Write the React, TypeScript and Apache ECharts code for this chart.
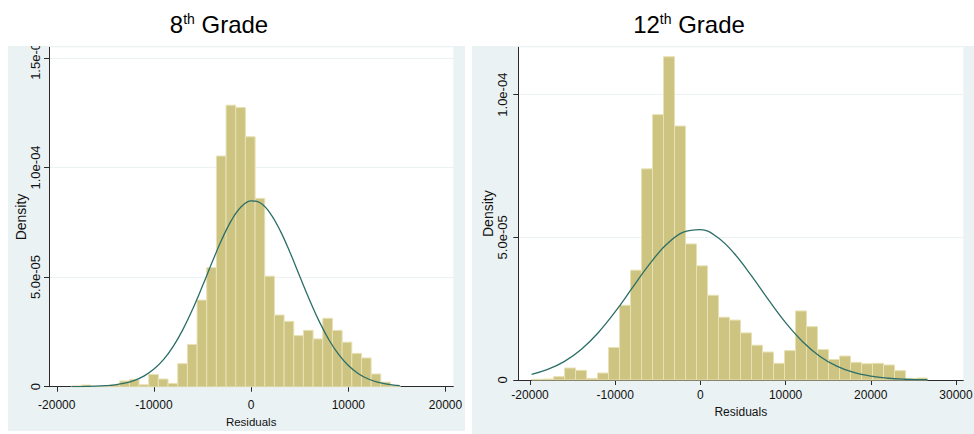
import React, { useEffect, useRef } from "react";
import * as echarts from "echarts";

// density values are stored in units of 1e-6
const SCALE = 1e-6;

// ---- 8th grade histogram ----
const grade8BinStart = -18500;
const grade8BinWidth = 995;
const grade8Density = [
  0.36, 0.77, 0.15, 0.15, 1.06, 2.6, 3.35, 0.9, 5.6, 3.5, 1.5, 10.5, 19.3, 39.5,
  54.3, 105.2, 128.4, 127.3, 114.0, 85.9, 50.4, 32.7, 29.8, 23.3, 25.7, 21.8,
  31.2, 25.7, 20.3, 15.2, 13.1, 5.8, 2.1, 0.6,
];
const grade8CurveX = [
  -18500, -18000, -17000, -16000, -15000, -14000, -13000, -12000, -11000, -10000,
  -9000, -8000, -7000, -6000, -5000, -4000, -3000, -2000, -1000, 0, 1000, 2000,
  3000, 4000, 5000, 6000, 7000, 8000, 9000, 10000, 11000, 12000, 13000, 14000,
  15000, 15300,
];
const grade8CurveY = [
  0.03, 0.05, 0.11, 0.22, 0.46, 0.88, 1.64, 2.92, 4.96, 8.05, 12.49, 18.53, 26.26,
  35.56, 46.03, 56.95, 67.32, 76.08, 82.16, 84.8, 83.66, 78.88, 71.08, 61.22,
  50.38, 39.64, 29.8, 21.42, 14.71, 9.65, 6.06, 3.63, 2.08, 1.14, 0.6, 0.49,
];

// ---- 12th grade histogram ----
const grade12BinStart = -19820;
const grade12BinWidth = 1291;
const grade12Density = [
  0.23, 0.35, 1.17, 4.2, 3.4, 0.58, 2.45, 11.4, 26.2, 38.5, 74.0, 93.0, 113.3,
  89.0, 47.7, 40.0, 29.7, 22.0, 21.0, 16.5, 12.2, 9.8, 5.85, 10.3, 24.2, 18.7,
  10.7, 7.2, 8.4, 6.2, 5.7, 5.85, 5.26, 3.27, 0.47, 0.7,
];
const grade12CurveX = [
  -19820, -18000, -16000, -14000, -12000, -10000, -8000, -6000, -4000, -2000, 0,
  2000, 4000, 6000, 8000, 10000, 12000, 14000, 16000, 18000, 20000, 22000, 24000,
  26000, 26640,
];
const grade12CurveY = [
  2.0, 3.6, 6.42, 10.68, 16.57, 23.94, 32.26, 40.53, 47.46, 51.81, 52.72, 50.02,
  44.24, 36.48, 28.04, 20.09, 13.42, 8.35, 4.85, 2.63, 1.33, 0.62, 0.27, 0.11,
  0.08,
];

// ---- ticks ----
const xTicks8 = [-20000, -10000, 0, 10000, 20000];
const xTicks12 = [-20000, -10000, 0, 10000, 20000, 30000];
const yTicks8 = [0, 5e-5, 1e-4, 1.5e-4];
const yTicks12 = [0, 5e-5, 1e-4];

const FONT = "'Liberation Sans', Arial, Helvetica, sans-serif";
const BAR_FILL = "#CDC481";
const BAR_EDGE = "#E8E1B4";
const CURVE = "#2C6E68";
const AXIS = "#2a2a2a";
const PANEL = "#EAF2F3";

function fmtY(v: number): string {
  if (Math.abs(v) < 1e-12) return "0";
  const [m, e] = v.toExponential(1).split("e");
  const n = Math.abs(parseInt(e, 10));
  return `${m}e${e[0] === "-" ? "-" : ""}${String(n).padStart(2, "0")}`;
}

function binData(start: number, width: number, dens: number[]) {
  return dens.map((d, i) => [start + i * width, start + (i + 1) * width, d * SCALE]);
}

function curveData(xs: number[], ys: number[]) {
  return xs.map((x, i) => [x, ys[i] * SCALE]);
}

const renderBar = (params: any, api: any) => {
  const x0 = api.value(0);
  const x1 = api.value(1);
  const y = api.value(2);
  const p0 = api.coord([x0, y]);
  const p1 = api.coord([x1, 0]);
  return {
    type: "rect",
    shape: { x: p0[0], y: p0[1], width: p1[0] - p0[0], height: p1[1] - p0[1] },
    style: { fill: BAR_FILL, stroke: BAR_EDGE, lineWidth: 1 },
  };
};

function xAxisCfg(grid: number, min: number, max: number, ticks: number[], margin: number, nameGap: number, nameSize: number) {
  return {
    gridIndex: grid,
    type: "value",
    min,
    max,
    axisLine: { show: true, onZero: false, lineStyle: { color: AXIS, width: 1 } },
    axisTick: { show: true, customValues: ticks, length: 5, lineStyle: { color: AXIS } },
    axisLabel: {
      customValues: ticks,
      margin,
      fontSize: 12,
      color: "#111",
      fontFamily: FONT,
      formatter: (v: number) => String(v),
    },
    splitLine: { show: false },
    name: "Residuals",
    nameLocation: "middle",
    nameGap,
    nameTextStyle: { fontSize: nameSize, color: "#111", fontFamily: FONT },
  };
}

function yAxisCfg(grid: number, max: number, ticks: number[], margin: number, nameGap: number) {
  return {
    gridIndex: grid,
    type: "value",
    min: 0,
    max,
    interval: 5e-5,
    axisLine: { show: true, onZero: false, lineStyle: { color: AXIS, width: 1 } },
    axisTick: { show: true, customValues: ticks, length: 5, lineStyle: { color: AXIS } },
    axisLabel: {
      customValues: ticks,
      rotate: 90,
      margin,
      fontSize: 13,
      color: "#111",
      fontFamily: FONT,
      formatter: (v: number) => fmtY(v),
    },
    splitLine: { show: true, lineStyle: { color: PANEL, width: 1 } },
    name: "Density",
    nameLocation: "middle",
    nameRotate: 90,
    nameGap,
    nameTextStyle: { fontSize: 14, color: "#111", fontFamily: FONT },
  };
}

function titleText(x: number, num: string) {
  return {
    type: "text",
    x,
    y: 24,
    z: 101,
    style: {
      text: `{n|${num}}{s|th}{n| Grade}`,
      align: "center",
      verticalAlign: "middle",
      rich: {
        n: { fontSize: 24, fontFamily: FONT, fill: "#000", color: "#000" },
        s: { fontSize: 14, fontFamily: FONT, fill: "#000", color: "#000", verticalAlign: "top" },
      },
    },
  };
}

export default function App() {
  const ref = useRef<HTMLDivElement>(null);
  useEffect(() => {
    document.body.style.margin = "0";
    if (!ref.current) return;
    const chart = echarts.init(ref.current, undefined, { renderer: "svg" });
    chart.setOption({
      animation: false,
      backgroundColor: "#ffffff",
      graphic: [
        { type: "rect", z: -10, shape: { x: 8, y: 46, width: 457, height: 385 }, style: { fill: PANEL } },
        { type: "rect", z: -10, shape: { x: 472, y: 46, width: 502, height: 388 }, style: { fill: PANEL } },
        { type: "rect", z: 100, shape: { x: 0, y: 0, width: 974, height: 46 }, style: { fill: "#ffffff" } },
        titleText(219, "8"),
        titleText(689, "12"),
      ],
      grid: [
        { left: 49, top: 47.3, width: 404.3, height: 339.4, show: true, backgroundColor: "#ffffff", borderWidth: 0, containLabel: false, outerBoundsMode: "none" },
        { left: 518.3, top: 47.3, width: 445, height: 332.7, show: true, backgroundColor: "#ffffff", borderWidth: 0, containLabel: false, outerBoundsMode: "none" },
      ],
      xAxis: [
        xAxisCfg(0, -20800, 20800, xTicks8, 12, 25, 11.5),
        xAxisCfg(1, -21380, 30860, xTicks12, 9, 24, 12),
      ],
      yAxis: [
        yAxisCfg(0, 1.548e-4, yTicks8, 7, 20),
        yAxisCfg(1, 1.166e-4, yTicks12, 9, 22),
      ],
      series: [
        {
          type: "custom",
          xAxisIndex: 0,
          yAxisIndex: 0,
          renderItem: renderBar,
          data: binData(grade8BinStart, grade8BinWidth, grade8Density),
          encode: { x: [0, 1], y: 2 },
        },
        {
          type: "line",
          xAxisIndex: 0,
          yAxisIndex: 0,
          data: curveData(grade8CurveX, grade8CurveY),
          smooth: 0.4,
          showSymbol: false,
          symbol: "none",
          lineStyle: { color: CURVE, width: 1.3 },
        },
        {
          type: "custom",
          xAxisIndex: 1,
          yAxisIndex: 1,
          renderItem: renderBar,
          data: binData(grade12BinStart, grade12BinWidth, grade12Density),
          encode: { x: [0, 1], y: 2 },
        },
        {
          type: "line",
          xAxisIndex: 1,
          yAxisIndex: 1,
          data: curveData(grade12CurveX, grade12CurveY),
          smooth: 0.4,
          showSymbol: false,
          symbol: "none",
          lineStyle: { color: CURVE, width: 1.3 },
        },
      ],
    });
    return () => chart.dispose();
  }, []);
  return <div ref={ref} style={{ width: 974, height: 434 }} />;
}
